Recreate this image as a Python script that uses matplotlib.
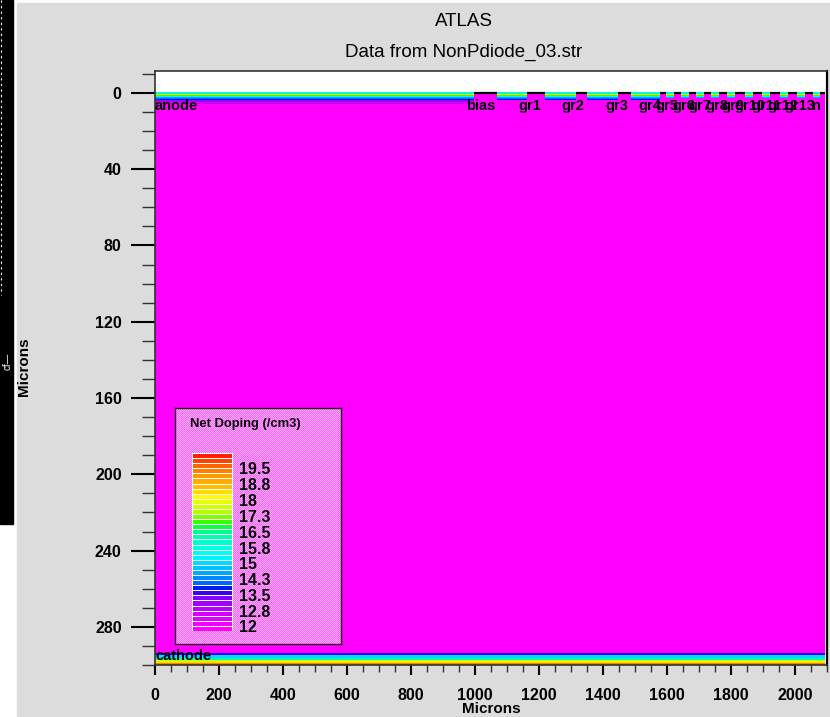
import matplotlib
matplotlib.use("Agg")
import matplotlib.pyplot as plt
import numpy as np
from matplotlib.colors import LinearSegmentedColormap
from matplotlib.lines import Line2D
from matplotlib.patches import Rectangle

plt.rcParams["font.family"] = "Liberation Sans"

# legend levels, log10 of net doping
legend_levels = [12, 12.8, 13.5, 14.3, 15, 15.8, 16.5, 17.3, 18, 18.8, 19.5]

# layers under the anode: edges in um and log doping of each layer
top_edges = [-0.5, 0, 0.5, 1.3, 1.6, 2.1, 2.6, 3.2, 3.7, 4.7, 5.5, 5.8]
top_doping = [15.5, 16.5, 18, 17, 15.5, 14.8, 14.2, 13.9, 13.2, 12.6, 13.0]
# layers above the cathode
back_edges = [293.6, 294.7, 296.2, 297.3, 298.3, 299, 299.9]
back_doping = [13.8, 15.3, 16.5, 17.8, 18.6, 19.5]
bulk_doping = 12

# contacts along the top surface (um)
contact_left = [997, 1162, 1316, 1447, 1578, 1622, 1669, 1716, 1762, 1812, 1869, 1922, 1978, 2031, 2078]
contact_right = [1069, 1219, 1350, 1487, 1597, 1644, 1691, 1737, 1787, 1844, 1897, 1953, 2006, 2056, 2094]
contact_names = ["bias", "gr1", "gr2", "gr3", "gr4", "gr5", "gr6", "gr7", "gr8", "gr9",
                 "gr10", "gr11", "gr12", "gr13", "n"]
label_x = [1019, 1172, 1306, 1444, 1547, 1599, 1651, 1703, 1755, 1807, 1859, 1911, 1963, 2015, 2067]

x_ticks = [0, 200, 400, 600, 800, 1000, 1200, 1400, 1600, 1800, 2000]
y_ticks = [0, 40, 80, 120, 160, 200, 240, 280]

color_stops = [(0, "#ff00ff"), (.079, "#d800ff"), (.135, "#b000ff"), (.19, "#7000ff"), (.225, "#0000e0"),
               (.257, "#0060ff"), (.313, "#00a0ff"), (.369, "#00d0ff"), (.425, "#00ffff"), (.49, "#00ffd8"),
               (.547, "#00ffa0"), (.575, "#00ff70"), (.607, "#20ff00"), (.66, "#a0ff00"), (.715, "#d8ff00"),
               (.762, "#ffff00"), (.818, "#ffc000"), (.875, "#ffa000"), (.93, "#ff7000"), (1, "#ff2000")]
cmap = LinearSegmentedColormap.from_list("atlas", color_stops, N=35)
vmin, vmax = 12, 20.3


def level_color(v):
    return cmap((v - vmin) / (vmax - vmin))


W, H = 830, 717
fig = plt.figure(figsize=(W / 100, H / 100), dpi=100, facecolor="white")


def px_axes(x0, y0, x1, y1):
    return fig.add_axes([x0 / W, 1 - y1 / H, (x1 - x0) / W, (y1 - y0) / H])


# window behind the plot, and the dark strip at the left
fig.patches.append(Rectangle((17 / W, 0), 1, 1 - 3 / H, transform=fig.transFigure,
                             color="#dcdcdc", zorder=-2))
fig.patches.append(Rectangle((0, 1 - 524 / H), 13 / W, 524 / H, transform=fig.transFigure,
                             color="black", zorder=-1))
fig.add_artist(Line2D([0.7 / W, 0.7 / W], [1, 1 - 295 / H], color="white", lw=0.8,
                      linestyle=(0, (2, 3))))
fig.text(7.5 / W, 1 - 361 / H, "cf\u2014", color="white", fontsize=7, rotation=90, ha="center", va="center")

ax = px_axes(155, 71, 827, 665)
ax.set_xlim(0, 2100)
ax.set_ylim(300, -11.5)
xmax = contact_right[-1]

# doping map
ax.fill_between([0, xmax], top_edges[-1], back_edges[0], color=level_color(bulk_doping), lw=0)
for a, b, v in zip(top_edges[:-1], top_edges[1:], top_doping):
    ax.fill_between([0, xmax], a, b, color=level_color(v), lw=0)
for a, b, v in zip(back_edges[:-1], back_edges[1:], back_doping):
    ax.fill_between([0, xmax], a, b, color=level_color(v), lw=0)

# the implant is shallower past the first contact and shallower still in the narrow gaps
ax.fill_between([contact_left[0], xmax], 3.9, top_edges[-1] + 0.1, color=level_color(bulk_doping), lw=0)
ax.fill_between([contact_left[4], xmax], 2.4, 4, color=level_color(bulk_doping), lw=0)

# contacts
for left, right in zip(contact_left, contact_right):
    ax.fill_between([left, right], -0.5, 6, color=level_color(bulk_doping), lw=0)
    ax.plot([left, right], [-0.2, -0.2], color="black", lw=1.6, solid_capstyle="butt")

ax.set_xticks(x_ticks)
ax.set_yticks(y_ticks)
ax.set_xticks(np.arange(0, 2101, 50), minor=True)
ax.set_yticks(np.arange(-10, 301, 10), minor=True)
ax.tick_params(axis="x", length=7.5, width=1.5, labelsize=11.5, pad=9)
ax.tick_params(axis="y", length=17, width=1.5, labelsize=11.5, pad=7)
ax.tick_params(axis="x", which="minor", length=5, width=1, color="#333333")
ax.tick_params(axis="y", which="minor", length=9.5, width=1, color="#333333")
for lab in ax.get_xticklabels() + ax.get_yticklabels():
    lab.set_fontweight("bold")
for s in ax.spines.values():
    s.set_linewidth(1.2)
    s.set_color("#333333")
ax.spines["right"].set_linewidth(1.6)
ax.spines["right"].set_color("black")

ax.text(0, 6.8, "anode", fontsize=10.5, fontweight="bold", va="center", ha="left")
ax.text(0, 295.3, "cathode", fontsize=10.5, fontweight="bold", va="center", ha="left")
for name, x in zip(contact_names, label_x):
    ax.text(x, 6.8, name, fontsize=10.5, fontweight="bold", va="center", ha="center")

fig.text(464 / W, 1 - 22 / H, "ATLAS", fontsize=13.5, ha="center", va="center")
fig.text(464 / W, 1 - 52 / H, "Data from NonPdiode_03.str", fontsize=13.5, ha="center", va="center")
fig.text(491 / W, 1 - 709 / H, "Microns", fontsize=11, fontweight="bold", ha="center", va="center")
fig.text(24 / W, 1 - 367 / H, "Microns", fontsize=11, fontweight="bold", rotation=90,
         ha="center", va="center")

# legend box, soft magenta stipple placed pixel for pixel under a clear axes
checker = np.indices((236, 166)).sum(axis=0) % 2
stipple = np.zeros((236, 166, 3))
stipple[checker == 0] = (0.96, 0.40, 0.96)
stipple[checker == 1] = (1.0, 0.66, 1.0)
fig.figimage(stipple, xo=175, yo=H - 644, origin="upper", zorder=1)

lg = px_axes(175, 408, 341, 644)
lg.set_zorder(2)
lg.patch.set_visible(False)
lg.set_xticks([])
lg.set_yticks([])
lg.set_xlim(175, 341)
lg.set_ylim(644, 408)
for s in lg.spines.values():
    s.set_color("#222222")
    s.set_linewidth(1)
lg.text(190, 424, "Net Doping (/cm3)", fontsize=9.4, fontweight="bold", va="center")

n_cells = 35
ys = np.linspace(631, 453, n_cells + 1)
lg.add_patch(Rectangle((192, 453), 41, 178, color="white", lw=0))
for i in range(n_cells):
    lg.add_patch(Rectangle((193, ys[i + 1] + 1), 39, ys[i] - ys[i + 1] - 1, color=cmap(i), lw=0))
for i, v in enumerate(legend_levels):
    lg.text(239, 628 - i * 15.8, f"{v:g}", fontsize=11.5, fontweight="bold", va="center")

fig.savefig("out.png", dpi=100, facecolor=fig.get_facecolor())
